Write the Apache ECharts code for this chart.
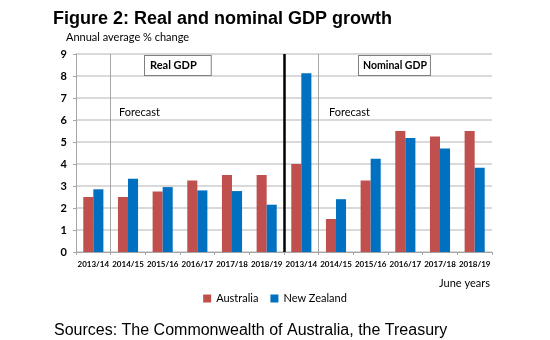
<!DOCTYPE html>
<html><head><meta charset="utf-8">
<script src="https://cdn.jsdelivr.net/npm/echarts@6/dist/echarts.min.js"></script>
<style>html,body{margin:0;padding:0;background:#fff}#c{width:550px;height:340px}</style>
</head><body><div id="c"></div>
<script>
const categories = ['2013/14','2014/15','2015/16','2016/17','2017/18','2018/19','2013/14','2014/15','2015/16','2016/17','2017/18','2018/19'];
const australia = [2.5, 2.5, 2.75, 3.25, 3.5, 3.5, 4.0, 1.5, 3.25, 5.5, 5.25, 5.5];
const newZealand = [2.85, 3.33, 2.95, 2.8, 2.77, 2.15, 8.13, 2.4, 4.24, 5.18, 4.7, 3.83];
const yTicks = [0,1,2,3,4,5,6,7,8,9];
const dividers = [1, 7];      // forecast boundaries (category index)
const sectionSplit = 6;       // real / nominal split

const chart = echarts.init(document.getElementById('c'));
const F = 'Lato, "Liberation Sans", sans-serif';
chart.setOption({
  animation: false,
  title: [
    {text: 'Figure 2: Real and nominal GDP growth', left: 48, top: 5,
     textStyle: {fontFamily: 'Liberation Sans, Arial', fontWeight: 'bold', fontSize: 18, color: '#000'}},
    {text: 'Annual average % change', left: 61, top: 27,
     textStyle: {fontFamily: F, fontWeight: 'normal', fontSize: 11, color: '#000'}},
    {text: 'June years', right: 55, top: 273,
     textStyle: {fontFamily: F, fontWeight: 'normal', fontSize: 11, color: '#000'}},
    {text: 'Sources: The Commonwealth of Australia, the Treasury', left: 49, top: 318,
     textStyle: {fontFamily: 'Liberation Sans, Arial', fontWeight: 'normal', fontSize: 16, color: '#000'}}
  ],
  legend: {
    data: ['Australia', 'New Zealand'], left: 'center', top: 288, itemWidth: 8, itemHeight: 8,
    itemGap: 12, icon: 'rect',
    textStyle: {fontFamily: F, fontSize: 11, color: '#000'}
  },
  grid: {left: 76, right: 58, top: 54, bottom: 88},
  xAxis: [
    {type: 'category', data: categories,
     axisLine: {lineStyle: {color: '#a6a6a6', width: 1}},
     axisTick: {show: true, length: 3, lineStyle: {color: '#a6a6a6'}},
     axisLabel: {fontFamily: F, fontWeight: 'bold', fontSize: 8, color: '#000', interval: 0, margin: 8}},
    {type: 'value', min: 0, max: 12, show: false}
  ],
  yAxis: {
    type: 'value', min: 0, max: 9, interval: 1,
    axisLine: {show: true, lineStyle: {color: '#a6a6a6'}},
    axisTick: {show: true, length: 3, lineStyle: {color: '#a6a6a6'}},
    axisLabel: {fontFamily: F, fontWeight: 'bold', fontSize: 11, color: '#000', margin: 9,
      formatter: v => yTicks.includes(v) ? String(v) : ''},
    splitLine: {lineStyle: {color: '#d9d9d9', width: 2}}
  },
  series: [
    {name: 'Australia', type: 'bar', data: australia, barGap: '0%', barCategoryGap: '42%',
     itemStyle: {color: '#C0504D'}},
    {name: 'New Zealand', type: 'bar', data: newZealand,
     itemStyle: {color: '#0070C0'}},
    {name: 'dividers', type: 'line', xAxisIndex: 1, data: [[0, 0]], showSymbol: false,
     lineStyle: {opacity: 0}, silent: true,
     markLine: {symbol: 'none', silent: true, label: {show: false},
       data: [
         ...dividers.map(v => ({xAxis: v, lineStyle: {color: '#a6a6a6', width: 1, type: 'solid'}})),
         {xAxis: sectionSplit, lineStyle: {color: '#000', width: 2.5, type: 'solid'}}
       ]}}
  ],
  graphic: [
    {type: 'text', left: 144, top: 55, z: 100,
     style: {text: 'Real GDP', fontFamily: F, fontWeight: 'bold', fontSize: 11, fill: '#000',
       backgroundColor: '#fff', borderColor: '#7f7f7f', borderWidth: 1,
       padding: [4, 14, 4, 5]}},
    {type: 'text', left: 358, top: 55, z: 100,
     style: {text: 'Nominal GDP', fontFamily: F, fontWeight: 'bold', fontSize: 10.5, fill: '#000',
       backgroundColor: '#fff', borderColor: '#7f7f7f', borderWidth: 1,
       padding: [4, 3, 4, 4]}},
    {type: 'text', left: 119, top: 107,
     style: {text: 'Forecast', fontFamily: F, fontSize: 11, fill: '#000'}},
    {type: 'text', left: 329, top: 107,
     style: {text: 'Forecast', fontFamily: F, fontSize: 11, fill: '#000'}}
  ]
});
</script></body></html>
